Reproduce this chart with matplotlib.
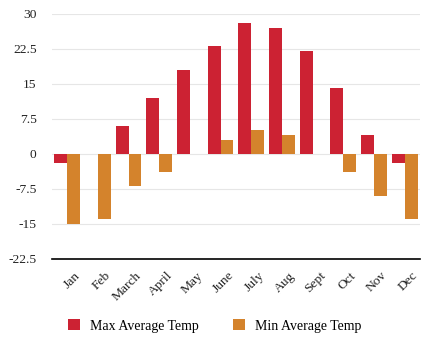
import numpy as np
import matplotlib.pyplot as plt
import matplotlib.transforms as mtransforms

months = ['Jan', 'Feb', 'March', 'April', 'May', 'June', 'July', 'Aug', 'Sept', 'Oct', 'Nov', 'Dec']
max_temp = [-2, 0, 6, 12, 18, 23, 28, 27, 22, 14, 4, -2]
min_temp = [-15, -14, -7, -4, 0, 3, 5, 4, 0, -4, -9, -14]
y_ticks = [-22.5, -15, -7.5, 0, 7.5, 15, 22.5, 30]

red = '#CC2233'
orange = '#D4832C'

plt.rcParams['font.family'] = ['Liberation Serif', 'DejaVu Serif']

fig = plt.figure(figsize=(4.29, 3.42), dpi=100)
ax = fig.add_axes([0.121, 0.243, 0.858, 0.7175])

x = np.arange(len(months))
w = 0.42
ax.bar(x - w / 2, max_temp, w, color=red, label='Max Average Temp', zorder=3)
ax.bar(x + w / 2, min_temp, w, color=orange, label='Min Average Temp', zorder=3)

ax.set_xlim(-0.5, len(months) - 0.5)
ax.set_ylim(-22.5, 30)
ax.set_yticks(y_ticks)
ax.set_yticklabels([f'{t:g}' for t in y_ticks], fontsize=9.7, color='#222222')
ax.set_xticks(x)
ax.set_xticklabels(months, rotation=45, ha='right', rotation_mode='anchor',
                   fontsize=9.7, color='#222222')
ax.tick_params(axis='both', length=0)
ax.tick_params(axis='y', pad=11)
ax.tick_params(axis='x', pad=7)

# nudge the rotated month labels a little to the right
shift = mtransforms.ScaledTranslation(7 / 100, -1 / 100, fig.dpi_scale_trans)
for lbl in ax.get_xticklabels():
    lbl.set_transform(lbl.get_transform() + shift)

ax.grid(axis='y', color='#e6e6e6', linewidth=0.8, zorder=0)
for s in ['top', 'right', 'left']:
    ax.spines[s].set_visible(False)
ax.spines['bottom'].set_color('black')
ax.spines['bottom'].set_linewidth(1.2)

fig.legend(loc='center', bbox_to_anchor=(0.5, 1 - 326 / 342), ncol=2,
           frameon=False, fontsize=10, handlelength=0.86, handleheight=0.86,
           columnspacing=2.5, handletextpad=0.72)

fig.savefig('out.png', dpi=100)
